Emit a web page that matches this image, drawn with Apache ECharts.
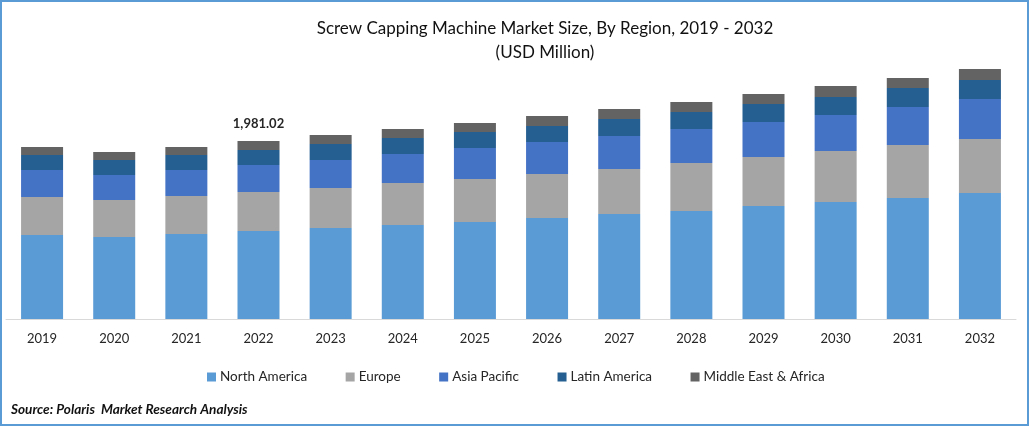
<!DOCTYPE html>
<html>
<head>
<meta charset="utf-8">
<style>
	html, body { margin: 0; padding: 0; background: #fff; }
	#chart { width: 1029px; height: 426px; }
</style>
<script src="https://cdn.jsdelivr.net/npm/echarts@6/dist/echarts.min.js"></script>
</head>
<body>
<div id="chart"></div>
<script>
	const years = ["2019", "2020", "2021", "2022", "2023", "2024", "2025", "2026", "2027", "2028", "2029", "2030", "2031", "2032"];
	const northAmerica = [935, 913, 946, 980, 1013, 1046, 1080, 1124, 1169, 1202, 1258, 1302, 1347, 1402];
	const europe = [423, 412, 423, 434, 445, 467, 479, 490, 501, 534, 545, 568, 590, 601];
	const asiaPacific = [300, 278, 289, 300, 312, 323, 345, 356, 367, 378, 390, 401, 423, 445];
	const latinAmerica = [167, 167, 167, 167, 178, 178, 178, 178, 189, 189, 200, 200, 211, 211];
	const middleEast = [89, 89, 89, 100.02, 100, 100, 100, 111, 111, 111, 111, 122, 111, 122];
	const labelledYear = "2022";
	const labelledText = "1,981.02";

	const font = "Lato";
	const regions = [
		{ name: "North America", data: northAmerica, color: "#5b9bd5" },
		{ name: "Europe", data: europe, color: "#a5a5a5" },
		{ name: "Asia Pacific", data: asiaPacific, color: "#4472c4" },
		{ name: "Latin America", data: latinAmerica, color: "#255e91" },
		{ name: "Middle East & Africa", data: middleEast, color: "#636363" }
	];

	let myChart = echarts.init(document.getElementById("chart"));
	let series = regions.map(item => {
		return {
			name: item.name,
			type: "bar",
			stack: "total",
			barWidth: 42,
			itemStyle: { color: item.color },
			data: item.data
		};
	});
	// only one bar carries a total label
	series[4].data = middleEast.map((value, i) => {
		if (years[i] !== labelledYear) return value;
		return {
			value: value,
			label: {
				show: true,
				position: "top",
				distance: 11,
				formatter: labelledText,
				fontFamily: font,
				fontSize: 13,
				fontWeight: "bold",
				color: "#262626"
			}
		};
	});

	let option = {
		animation: false,
		title: {
			text: "Screw Capping Machine Market Size, By Region, 2019 - 2032\n(USD Million)",
			left: 540,
			top: 12,
			textAlign: "center",
			textStyle: {
				fontFamily: font,
				fontSize: 17,
				fontWeight: "normal",
				color: "#111",
				lineHeight: 24
			}
		},
		legend: {
			left: 202,
			top: 365,
			itemWidth: 9,
			itemHeight: 9,
			itemGap: 38.5,
			icon: "rect",
			textStyle: { fontFamily: font, fontSize: 13.5, color: "#262626", padding: [0, 0, 0, -1] },
			data: regions.map(item => item.name)
		},
		grid: { left: 6, right: 13, top: 49.4, bottom: 107 },
		xAxis: {
			type: "category",
			data: years,
			axisTick: { show: false },
			axisLine: { lineStyle: { color: "#d9d9d9", width: 1 } },
			axisLabel: { margin: 13, fontFamily: font, fontSize: 13, color: "#262626" }
		},
		yAxis: { type: "value", min: 0, max: 3000, show: false },
		graphic: [
			{
				type: "rect",
				shape: { x: 1, y: 1, width: 1027, height: 424 },
				style: { fill: null, stroke: "#5b9bd5", lineWidth: 2 },
				silent: true
			},
			{
				type: "text",
				left: 11,
				top: 403,
				style: {
					text: "Source: Polaris  Market Research Analysis",
					fontFamily: font,
					fontSize: 13.6,
					fontWeight: "bold",
					fontStyle: "italic",
					fill: "#111"
				}
			}
		],
		series: series
	};
	myChart.setOption(option);
</script>
</body>
</html>
